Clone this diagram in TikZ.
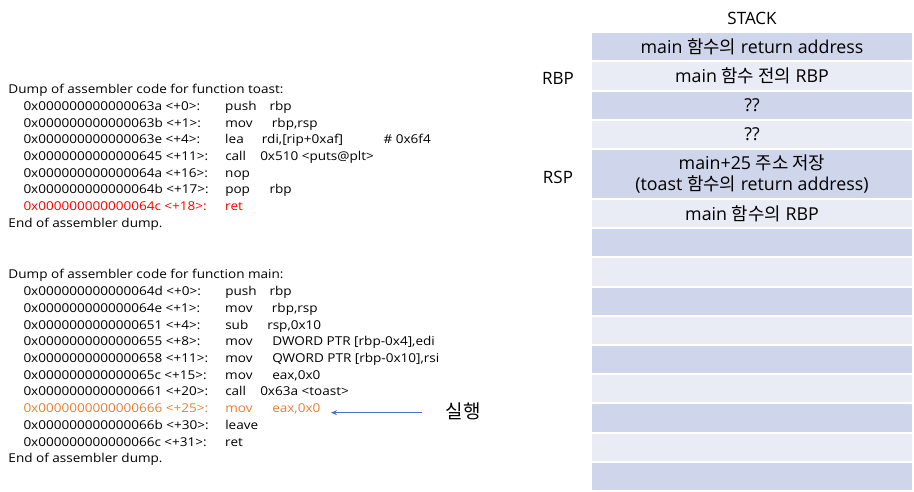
\documentclass[tikz,border=0pt]{standalone}
\usepackage{fontspec}
\usetikzlibrary{arrows.meta}
\setmainfont{Open Sans}
\newfontfamily\codefont[FakeStretch=1.11]{Open Sans}
\newfontfamily\ko{Noto Sans CJK KR}
\definecolor{dk}{HTML}{CFD5EA}
\definecolor{lt}{HTML}{E9EBF5}
\definecolor{redc}{HTML}{FF0000}
\definecolor{orc}{HTML}{ED7D31}
\definecolor{arrc}{HTML}{4472C4}
\newcommand\asmline[5]{\rlap{#1 #2}\hspace*{201.7pt}\rlap{#4}\hspace*{#3pt}#5}
\begin{document}
\begin{tikzpicture}[x=1pt,y=-1pt,
  code/.style={anchor=base west, inner sep=0pt, font=\codefont\fontsize{12.2}{14}\selectfont},
  cell/.style={minimum width=320pt, inner sep=0pt, align=center, font=\fontsize{17.8}{21.5}\selectfont},
  dkcell/.style={cell, fill=dk, minimum height=27.2pt},
  ltcell/.style={cell, fill=lt, minimum height=27.2pt},
  lbl/.style={inner sep=0pt, font=\fontsize{17}{20}\selectfont},
  arr/.style={draw=arrc, line width=0.9pt, -{Stealth[length=6pt,width=5pt]}}
]
\useasboundingbox (0,0) rectangle (914,492);
% toast dump
\node[code] (t0) at (8.3,94) {Dump of assembler code for function toast:};
\node[code] (t1) at (23.3,110.65) {\asmline{0x000000000000063a}{<+0>:}{44.3}{push}{rbp}};
\node[code] (t2) at (23.3,127.3) {\asmline{0x000000000000063b}{<+1>:}{46.7}{mov}{rbp,rsp}};
\node[code] (t3) at (23.3,143.95) {\asmline{0x000000000000063e}{<+4>:}{36.7}{lea}{\rlap{rdi,[rip+0xaf]}\hspace*{121.6pt}\# 0x6f4}};
\node[code] (t4) at (23.3,160.6) {\asmline{0x0000000000000645}{<+11>:}{35}{call}{0x510 <puts@plt>}};
\node[code] (t5) at (23.3,177.25) {\asmline{0x000000000000064a}{<+16>:}{0}{nop}{}};
\node[code] (t6) at (23.3,193.9) {\asmline{0x000000000000064b}{<+17>:}{44.3}{pop}{rbp}};
\node[code, text=redc] (t7) at (23.3,210.55) {\asmline{0x000000000000064c}{<+18>:}{0}{ret}{}};
\node[code] (t8) at (8.3,227.2) {End of assembler dump.};
% main dump
\node[code] (m0) at (8.3,279) {Dump of assembler code for function main:};
\node[code] (m1) at (23.3,295.7) {\asmline{0x000000000000064d}{<+0>:}{44.3}{push}{rbp}};
\node[code] (m2) at (23.3,312.4) {\asmline{0x000000000000064e}{<+1>:}{46.7}{mov}{rbp,rsp}};
\node[code] (m3) at (23.3,329.1) {\asmline{0x0000000000000651}{<+4>:}{42}{sub}{rsp,0x10}};
\node[code] (m4) at (23.3,345.8) {\asmline{0x0000000000000655}{<+8>:}{47}{mov}{DWORD PTR [rbp-0x4],edi}};
\node[code] (m5) at (23.3,362.5) {\asmline{0x0000000000000658}{<+11>:}{47}{mov}{QWORD PTR [rbp-0x10],rsi}};
\node[code] (m6) at (23.3,379.2) {\asmline{0x000000000000065c}{<+15>:}{47}{mov}{eax,0x0}};
\node[code] (m7) at (23.3,395.9) {\asmline{0x0000000000000661}{<+20>:}{35}{call}{0x63a <toast>}};
\node[code, text=orc] (m8) at (23.3,412.6) {\asmline{0x0000000000000666}{<+25>:}{47}{mov}{eax,0x0}};
\node[code] (m9) at (23.3,429.3) {\asmline{0x000000000000066b}{<+30>:}{0}{leave}{}};
\node[code] (m10) at (23.3,446) {\asmline{0x000000000000066c}{<+31>:}{0}{ret}{}};
\node[code] (m11) at (8.3,462.7) {End of assembler dump.};
% run label and arrow
\node[inner sep=0pt, font=\ko\fontsize{19}{22}\selectfont] (run) at (463,411) {실행};
\coordinate (arrs) at (422,412.7);
\coordinate (arre) at (331,412.7);
\draw[arr] (arrs) -- (arre);
% stack
\node[inner sep=0pt, font=\fontsize{17}{18}\selectfont] (stk) at (752,18) {STACK};
\node[lbl] (rbp) at (558,78) {RBP};
\node[lbl] (rsp) at (558,177) {RSP};
\node[dkcell] (s0) at (752,46.9) {main {\ko 함수의} return address};
\node[ltcell] (s1) at (752,76.1) {main {\ko 함수 전의} RBP};
\node[dkcell] (s2) at (752,105.3) {??};
\node[ltcell] (s3) at (752,134.4) {??};
\node[dkcell, minimum height=48pt] (s4) at (752,174) {main+25 {\ko 주소 저장}\\(toast {\ko 함수의} return address)};
\node[ltcell] (s5) at (752,213.6) {main {\ko 함수의} RBP};
\foreach \i/\yy/\st in {6/242.8/dkcell,7/272.0/ltcell,8/301.2/dkcell,9/330.3/ltcell,10/359.5/dkcell,11/388.7/ltcell,12/417.9/dkcell,13/447.1/ltcell,14/476.2/dkcell}
  \node[\st] (s\i) at (752,\yy) {};
\end{tikzpicture}
\end{document}
